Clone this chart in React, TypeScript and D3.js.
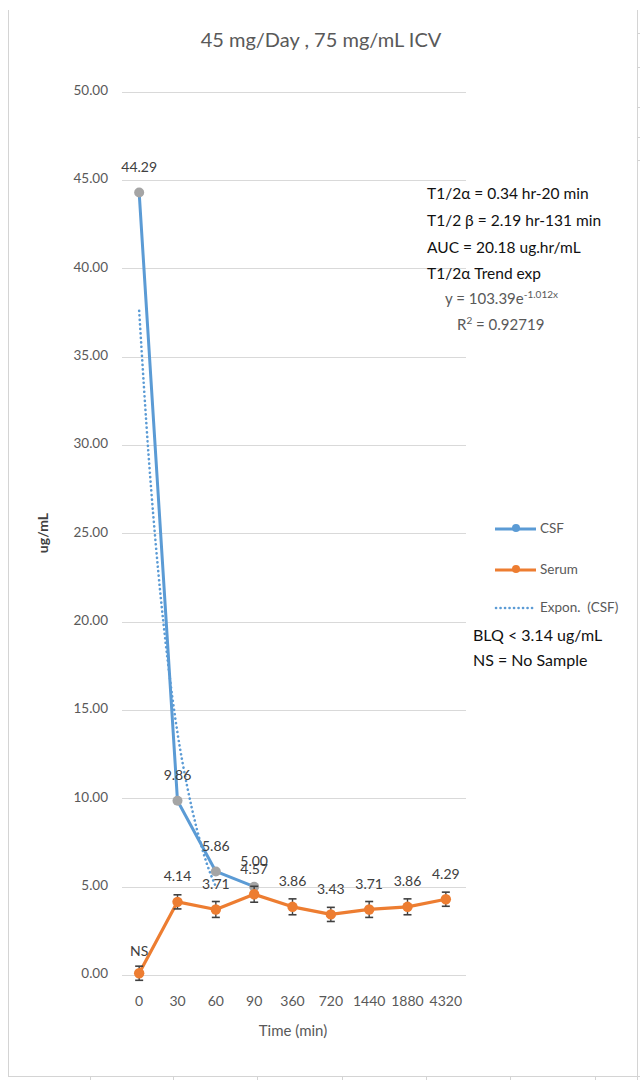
import React from "react";
import * as d3 from "d3";

const categories = ["0", "30", "60", "90", "360", "720", "1440", "1880", "4320"];
const csfValues = [44.29, 9.86, 5.86, 5.0];
const csfLabels = ["44.29", "9.86", "5.86", "5.00"];
const serumValues = [0.1, 4.14, 3.71, 4.57, 3.86, 3.43, 3.71, 3.86, 4.29];
const serumLabels = ["NS", "4.14", "3.71", "4.57", "3.86", "3.43", "3.71", "3.86", "4.29"];
const serumErrors = [0.4, 0.4, 0.45, 0.45, 0.45, 0.4, 0.45, 0.45, 0.4];
// trend line at fractional category positions
const trendPos = [0, 0.25, 0.5, 0.75, 1, 1.25, 1.5, 1.75, 2];
const trendValues = [37.6, 29.3, 22.8, 17.7, 13.7, 10.7, 8.3, 6.4, 5.0];
const yTicks = [0, 5, 10, 15, 20, 25, 30, 35, 40, 45, 50];

const FONT = "Lato, 'Open Sans', sans-serif";
const BLUE = "#5B9BD5";
const ORANGE = "#ED7D31";
const GRAY_TXT = "#595959";

export default function App() {
  const x = d3.scaleBand<string>().domain(categories).range([120, 465]);
  const cx = (c: string) => (x(c) as number) + x.bandwidth() / 2;
  const xPos = d3.scaleLinear().domain([0, categories.length - 1]).range([cx(categories[0]), cx(categories[categories.length - 1])]);
  const y = d3.scaleLinear().domain([0, 50]).range([975, 91.7]);

  const csfLine = d3.line<number>().x((_, i) => cx(categories[i])).y((d) => y(d))(csfValues) as string;
  const serumLine = d3.line<number>().x((_, i) => cx(categories[i])).y((d) => y(d))(serumValues) as string;
  const trendLine = d3
    .line<number>()
    .x((_, i) => xPos(trendPos[i]))
    .y((d) => y(d))
    .curve(d3.curveMonotoneX)(trendValues) as string;

  const frameTicks = [90, 173, 257, 342, 426, 510, 595];
  const rightTicks = [33, 67, 107, 137, 160];

  return (
    <svg width={640} height={1080} style={{ position: "absolute", left: 0, top: 0, background: "#fff" }} fontFamily={FONT}>
      <rect x={0} y={0} width={640} height={1080} fill="#fff" />
      {/* frame */}
      <line x1={8.5} y1={10} x2={8.5} y2={1076} stroke="#D4D4D4" />
      <line x1={8} y1={1076.5} x2={640} y2={1076.5} stroke="#D4D4D4" />
      <line x1={637.5} y1={10} x2={637.5} y2={1080} stroke="#D4D4D4" />
      {frameTicks.map((t) => (
        <line key={t} x1={t + 0.5} y1={1076} x2={t + 0.5} y2={1080} stroke="#D4D4D4" />
      ))}
      {rightTicks.map((t) => (
        <line key={t} x1={637} y1={t + 0.5} x2={640} y2={t + 0.5} stroke="#D4D4D4" />
      ))}

      {/* title */}
      <text x={321} y={42} textAnchor="middle" dominantBaseline="middle" fontSize={20} fill={GRAY_TXT}>
        45 mg/Day , 75 mg/mL ICV
      </text>

      {/* grid & y ticks */}
      {yTicks.map((t) => (
        <g key={t}>
          <line x1={122} x2={466} y1={Math.round(y(t)) + 0.5} y2={Math.round(y(t)) + 0.5} stroke="#D9D9D9" strokeWidth={1} />
          <text x={108} y={y(t)} textAnchor="end" dominantBaseline="middle" fontSize={13.5} fill={GRAY_TXT}>
            {t.toFixed(2)}
          </text>
        </g>
      ))}

      {/* x ticks */}
      {categories.map((c) => (
        <text key={c} x={cx(c)} y={1002} textAnchor="middle" dominantBaseline="middle" fontSize={14} fill={GRAY_TXT}>
          {c}
        </text>
      ))}
      <text x={293} y={1032} textAnchor="middle" dominantBaseline="middle" fontSize={15} fill={GRAY_TXT}>
        Time (min)
      </text>
      <text
        x={44}
        y={533}
        textAnchor="middle"
        dominantBaseline="middle"
        fontSize={14}
        fontWeight="bold"
        fill="#404040"
        transform="rotate(-90 44 533)"
      >
        ug/mL
      </text>

      {/* trend */}
      <path d={trendLine} fill="none" stroke={BLUE} strokeWidth={2.6} strokeDasharray="0.1 4.4" strokeLinecap="round" />

      {/* CSF */}
      <path d={csfLine} fill="none" stroke={BLUE} strokeWidth={3} strokeLinejoin="round" />
      {csfValues.map((v, i) => (
        <circle key={i} cx={cx(categories[i])} cy={y(v)} r={5} fill="#A5A5A5" />
      ))}

      {/* Serum */}
      <path d={serumLine} fill="none" stroke={ORANGE} strokeWidth={3.2} strokeLinejoin="round" />
      {serumValues.map((v, i) => {
        const px = cx(categories[i]);
        const top = y(v + serumErrors[i]);
        const bot = y(v - serumErrors[i]);
        return (
          <g key={i}>
            <line x1={px} x2={px} y1={top} y2={bot} stroke="#404040" strokeWidth={1.4} />
            <line x1={px - 4} x2={px + 4} y1={top} y2={top} stroke="#404040" strokeWidth={1.6} />
            <line x1={px - 4} x2={px + 4} y1={bot} y2={bot} stroke="#404040" strokeWidth={1.6} />
            <circle cx={px} cy={y(v)} r={5.2} fill={ORANGE} />
          </g>
        );
      })}

      {/* data labels */}
      {csfValues.map((v, i) => (
        <text key={"c" + i} x={cx(categories[i])} y={y(v) - 24} textAnchor="middle" dominantBaseline="middle" fontSize={14} fill="#404040">
          {csfLabels[i]}
        </text>
      ))}
      {serumValues.map((v, i) => (
        <text key={"s" + i} x={cx(categories[i])} y={y(v) - (i === 0 ? 21 : 24)} textAnchor="middle" dominantBaseline="middle" fontSize={14} fill="#404040">
          {serumLabels[i]}
        </text>
      ))}

      {/* annotations */}
      <g fontSize={15.5} fill="#111">
        <text x={427} y={195} dominantBaseline="middle">T1/2α = 0.34 hr-20 min</text>
        <text x={427} y={222} dominantBaseline="middle">T1/2 β = 2.19 hr-131 min</text>
        <text x={427} y={249} dominantBaseline="middle">AUC = 20.18 ug.hr/mL</text>
        <text x={427} y={275} dominantBaseline="middle">T1/2α Trend exp</text>
      </g>
      <text x={445} y={300} dominantBaseline="middle" fontSize={15} fill={GRAY_TXT}>
        y = 103.39e<tspan fontSize={10} dy={-5}>-1.012x</tspan>
      </text>
      <text x={457} y={326} dominantBaseline="middle" fontSize={15} fill={GRAY_TXT}>
        R<tspan fontSize={10} dy={-5}>2</tspan>
        <tspan dy={5}> = 0.92719</tspan>
      </text>

      {/* legend */}
      <line x1={495} x2={536} y1={529} y2={529} stroke={BLUE} strokeWidth={3} />
      <circle cx={516} cy={528} r={4} fill={BLUE} />
      <text x={540} y={530} dominantBaseline="middle" fontSize={13.5} fill={GRAY_TXT}>CSF</text>
      <line x1={495} x2={536} y1={570} y2={570} stroke={ORANGE} strokeWidth={3} />
      <circle cx={516} cy={569} r={4} fill={ORANGE} />
      <text x={540} y={571} dominantBaseline="middle" fontSize={13.5} fill={GRAY_TXT}>Serum</text>
      <line x1={496} x2={535} y1={608} y2={608} stroke={BLUE} strokeWidth={2.6} strokeDasharray="0.1 4.4" strokeLinecap="round" />
      <text x={540} y={609} dominantBaseline="middle" fontSize={13.5} fill={GRAY_TXT} style={{ whiteSpace: "pre" }}>
        {"Expon.  (CSF)"}
      </text>

      <g fontSize={16} fill="#111">
        <text x={473} y={637} dominantBaseline="middle">BLQ &lt; 3.14 ug/mL</text>
        <text x={473} y={662} dominantBaseline="middle">NS = No Sample</text>
      </g>
    </svg>
  );
}
